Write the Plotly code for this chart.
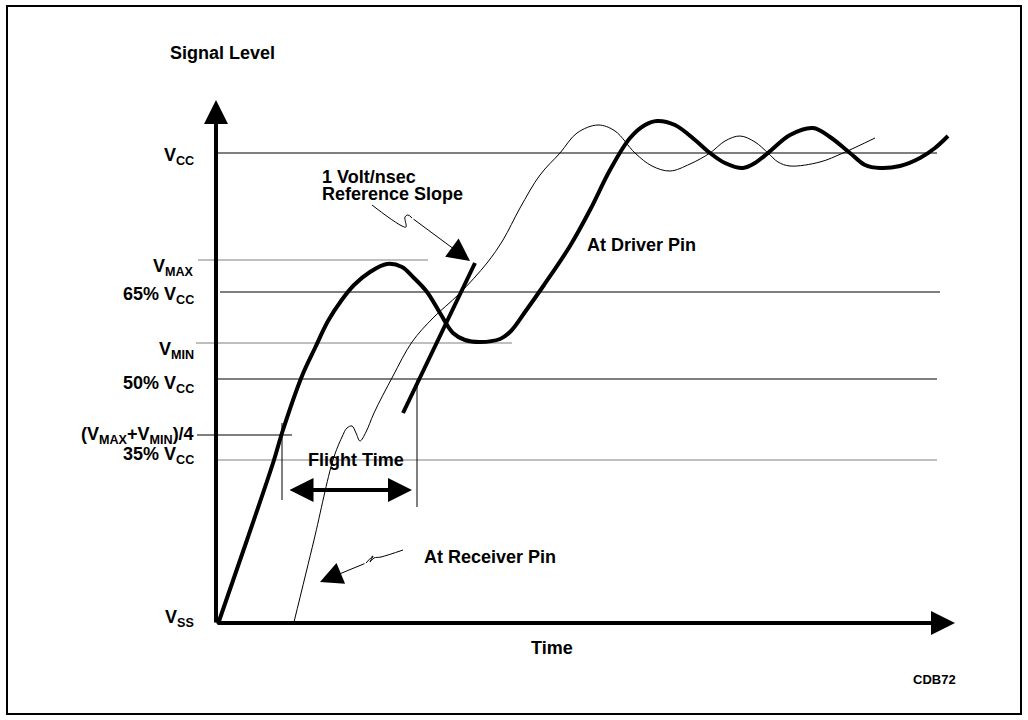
import plotly.graph_objects as go

# units: time t and signal level v (arbitrary diagram units, Vss = 0)
driver_t = [2, 31, 58, 66, 86, 99, 112, 125, 138, 154, 171, 186, 197, 211, 224, 237,
            249, 264, 284, 295, 309, 328, 354, 374, 394, 414, 429, 441, 459, 479, 494, 509,
            527, 539, 552, 574, 597, 614, 634, 649, 664, 684, 704, 719, 732]
driver_v = [0, 84, 164, 191, 248, 276, 303, 323, 339, 352, 360, 357, 347, 332, 311, 291,
            284, 282, 285, 293, 312, 339, 378, 414, 454, 486, 499, 503, 499, 484, 471, 461,
            456, 461, 471, 489, 496, 487, 471, 459, 456, 458, 466, 476, 488]

receiver_t = [78, 98, 117, 126, 131, 136, 140, 144, 150, 158, 177, 196, 217, 243, 271,
              287, 304, 324, 344, 361, 382, 399, 419, 436, 454, 474, 494, 509, 524, 539,
              552, 562, 574, 604, 627, 659]
receiver_v = [2, 84, 164, 187, 196, 198, 191, 183, 192, 211, 248, 282, 306, 330, 361,
              384, 416, 449, 471, 491, 499, 493, 471, 458, 453, 460, 471, 483, 488, 482,
              471, 462, 458, 462, 471, 486]

slope_t = [187, 259]
slope_v = [211, 361]

# reference levels: label, level, start, end, colour
level_names = ["V<sub>CC</sub>", "V<sub>MAX</sub>", "65% V<sub>CC</sub>", "V<sub>MIN</sub>",
               "50% V<sub>CC</sub>", "(V<sub>MAX</sub>+V<sub>MIN</sub>)/4", "35% V<sub>CC</sub>",
               "V<sub>SS</sub>"]
level_v = [471, 364, 332, 281, 245, 189, 164, 0]
level_label_v = [468, 357, 329, 274, 240, 189, 169, 6]
level_t0 = [2, -18, 4, -20, 2, -19, 2, None]
level_t1 = [721, 212, 724, 296, 721, 76, 721, None]
level_col = ["black", "#808080", "black", "#808080", "black", "black", "#808080", None]

flight_t = [72, 196]
flight_v = 134
flight_marks_t = [66, 201]
flight_marks_v0 = [201, 244]
flight_marks_v1 = [124, 117]

slope_pointer_t = [156, 172, 186, 190, 189, 192, 196]
slope_pointer_v = [419, 407, 398, 397, 407, 409, 406]
slope_pointer_tip = (254, 363)

recv_pointer_t = [187, 165, 158, 154, 157, 150]
recv_pointer_v = [74, 67, 66, 62, 68, 61]
recv_pointer_tip = (104, 42)

fig = go.Figure()

for name, v, t0, t1, c in zip(level_names, level_v, level_t0, level_t1, level_col):
    if t0 is None:
        continue
    fig.add_trace(go.Scatter(x=[t0, t1], y=[v, v], mode="lines",
                             line=dict(color=c, width=1.2), hoverinfo="skip"))

# flight time markers
for t, a, b in zip(flight_marks_t, flight_marks_v0, flight_marks_v1):
    fig.add_trace(go.Scatter(x=[t, t], y=[a, b], mode="lines",
                             line=dict(color="black", width=1), hoverinfo="skip"))

fig.add_trace(go.Scatter(x=receiver_t, y=receiver_v, mode="lines", name="At Receiver Pin",
                         line=dict(color="black", width=1, shape="spline", smoothing=1.0)))
fig.add_trace(go.Scatter(x=driver_t, y=driver_v, mode="lines", name="At Driver Pin",
                         line=dict(color="black", width=4, shape="spline", smoothing=1.0)))
fig.add_trace(go.Scatter(x=slope_t, y=slope_v, mode="lines", name="Reference Slope",
                         line=dict(color="black", width=4)))

fig.add_trace(go.Scatter(x=slope_pointer_t, y=slope_pointer_v, mode="lines",
                         line=dict(color="black", width=1, shape="spline"), hoverinfo="skip"))
fig.add_trace(go.Scatter(x=recv_pointer_t, y=recv_pointer_v, mode="lines",
                         line=dict(color="black", width=1, shape="spline"), hoverinfo="skip"))

txt = dict(family="Liberation Sans, Arial, sans-serif", size=18, color="black", weight="bold")

ann = []
for name, v in zip(level_names, level_label_v):
    ann.append(dict(x=-20, y=v, text=name, xanchor="right", yanchor="middle",
                    showarrow=False, font=txt))

def arrow(tip, tail, width, size, both=False):
    d = dict(x=tip[0], y=tip[1], ax=tail[0], ay=tail[1], xref="x", yref="y",
             axref="x", ayref="y", text="", showarrow=True, arrowhead=2,
             arrowsize=size, arrowwidth=width, arrowcolor="black", standoff=0)
    if both:
        d.update(arrowside="end+start", startarrowhead=2, startarrowsize=size, startstandoff=0)
    return d

# axes
ann.append(arrow((0, 524), (0, 0), 4, 1.2))
ann.append(arrow((739, 1), (0, 1), 4, 1.2))
ann.append(arrow((flight_t[1], flight_v), (flight_t[0], flight_v), 4, 1.2, both=True))
ann.append(arrow(slope_pointer_tip, (slope_pointer_t[-1], slope_pointer_v[-1]), 1, 4.5))
ann.append(arrow(recv_pointer_tip, (recv_pointer_t[-1], recv_pointer_v[-1]), 1, 4.5))

labels = [
    ("Signal Level", -48, 571, "left"),
    ("1 Volt/nsec", 104, 447, "left"),
    ("Reference Slope", 104, 430, "left"),
    ("At Driver Pin", 369, 379, "left"),
    ("At Receiver Pin", 206, 67, "left"),
    ("Flight Time", 140, 164, "center"),
    ("Time", 336, -24, "center"),
]
for s, t, v, xa in labels:
    ann.append(dict(x=t, y=v, text=s, xanchor=xa, yanchor="middle", showarrow=False, font=txt))
ann.append(dict(x=718, y=-55, text="CDB72", xanchor="center", yanchor="middle",
                showarrow=False, font=dict(txt, size=13)))

fig.update_layout(
    width=1028,
    height=720,
    margin=dict(l=0, r=0, t=0, b=0),
    paper_bgcolor="white",
    plot_bgcolor="white",
    showlegend=False,
    annotations=ann,
    shapes=[dict(type="rect", xref="x", yref="y", x0=-209, x1=805, y0=618, y1=-90,
                 line=dict(color="black", width=2))],
    xaxis=dict(range=[-216, 812], visible=False, fixedrange=True),
    yaxis=dict(range=[-96, 624], visible=False, fixedrange=True),
)

fig.write_html("out.html", config={"displayModeBar": False},
               post_script="document.body.style.margin='0px';")
